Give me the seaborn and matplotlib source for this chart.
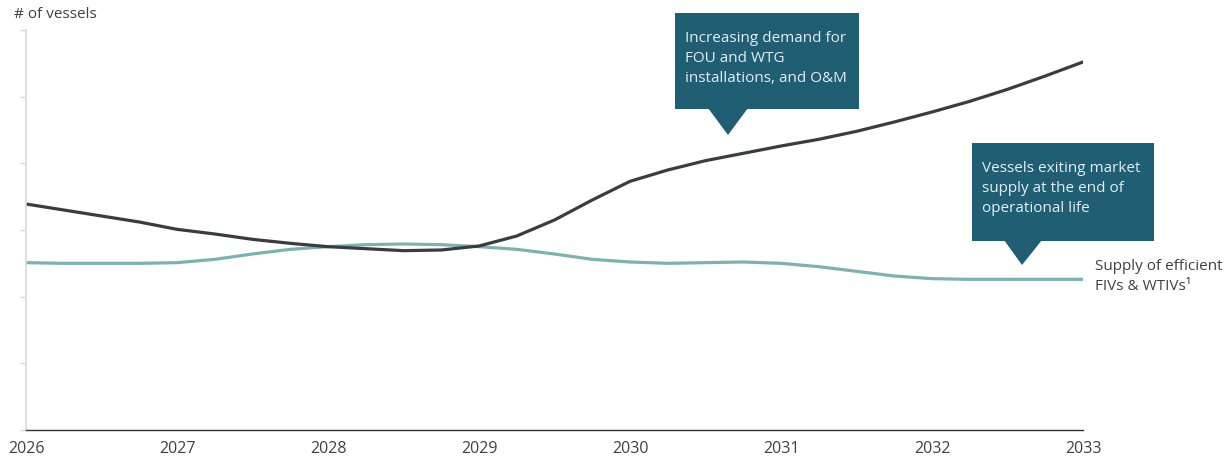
import numpy as np
import pandas as pd
import matplotlib
matplotlib.use("Agg")
import matplotlib.pyplot as plt
from matplotlib.patches import Polygon, Rectangle
import seaborn as sns

# Quarterly outlook, number of vessels (index scale)
years = [2026.00, 2026.25, 2026.50, 2026.75, 2027.00, 2027.25, 2027.50, 2027.75,
         2028.00, 2028.25, 2028.50, 2028.75, 2029.00, 2029.25, 2029.50, 2029.75,
         2030.00, 2030.25, 2030.50, 2030.75, 2031.00, 2031.25, 2031.50, 2031.75,
         2032.00, 2032.25, 2032.50, 2032.75, 2033.00]
demand = [3.39, 3.30, 3.21, 3.12, 3.01, 2.94, 2.86, 2.80,
          2.75, 2.72, 2.69, 2.70, 2.76, 2.91, 3.15, 3.45,
          3.73, 3.90, 4.04, 4.15, 4.26, 4.36, 4.48, 4.62,
          4.77, 4.93, 5.11, 5.31, 5.52]
supply = [2.51, 2.50, 2.50, 2.50, 2.51, 2.56, 2.64, 2.71,
          2.75, 2.78, 2.79, 2.78, 2.75, 2.71, 2.64, 2.56,
          2.52, 2.50, 2.51, 2.52, 2.50, 2.45, 2.38, 2.31,
          2.27, 2.26, 2.26, 2.26, 2.26]
tick_years = [2026, 2027, 2028, 2029, 2030, 2031, 2032, 2033]

y_label = "# of vessels"
callout_demand = "Increasing demand for\nFOU and WTG\ninstallations, and O&M"
callout_supply = "Vessels exiting market\nsupply at the end of\noperational life"
supply_label = "Supply of efficient\nFIVs & WTIVs\u00b9"

DARK = "#393d42"
TEAL = "#7db3ae"
BOX = "#1f5e73"
TXT = "#404040"
FS = 11

sns.set_theme(style="white")
plt.rcParams["font.family"] = ["Open Sans", "DejaVu Sans"]

W, H = 1232, 461
fig = plt.figure(figsize=(W / 100, H / 100), dpi=100)
ax = fig.add_axes([26 / W, 1 - 430 / H, (1083 - 26) / W, (430 - 30) / H])

df = pd.DataFrame({"year": years, "demand": demand, "supply": supply})
sns.lineplot(data=df, x="year", y="supply", ax=ax, color=TEAL, lw=2.3)
sns.lineplot(data=df, x="year", y="demand", ax=ax, color=DARK, lw=2.3)

ax.set_xlim(2026, 2033)
ax.set_ylim(0, 6)
ax.set_xlabel("")
ax.set_ylabel("")
ax.set_xticks(tick_years)
ax.set_xticklabels([str(y) for y in tick_years], fontsize=FS + 0.5, color=TXT)
ax.set_yticks(range(0, 7))
ax.set_yticklabels([])
ax.tick_params(axis="x", length=0, pad=8)
ax.tick_params(axis="y", length=4, width=1, color="#d9d9d9", direction="out", left=True)
for s in ["top", "right"]:
    ax.spines[s].set_visible(False)
ax.spines["left"].set_color("#d9d9d9")
ax.spines["left"].set_linewidth(1.2)
ax.spines["bottom"].set_color("#333333")
ax.spines["bottom"].set_linewidth(1.0)
ax.patch.set_alpha(0)

fig.text(14 / W, 1 - 15 / H, y_label, fontsize=FS, color=TXT, va="center", ha="left")


def px(x, y):
    return (x / W, 1 - y / H)


def callout(x0, y0, x1, y1, base_l, base_r, tip, text):
    rect = Rectangle(px(x0, y1), (x1 - x0) / W, (y1 - y0) / H,
                     transform=fig.transFigure, color=BOX, lw=0, zorder=5)
    tri = Polygon([px(base_l, y1 - 1), px(base_r, y1 - 1), px(*tip)],
                  closed=True, transform=fig.transFigure, color=BOX, lw=0, zorder=5)
    fig.add_artist(rect)
    fig.add_artist(tri)
    tx, ty = px(x0 + 10, y0 + 18)
    fig.text(tx, ty, text, fontsize=FS, color="#e4eef1", va="top", ha="left",
             linespacing=1.45, zorder=6)


callout(675, 13, 859, 109, 708, 748, (728, 135), callout_demand)
callout(972, 143, 1154, 241, 1004, 1042, (1022, 265), callout_supply)

fig.text(1095 / W, 1 - 259 / H, supply_label, fontsize=FS, color=TXT,
         va="top", ha="left", linespacing=1.45)

fig.savefig("out.png", dpi=100)
